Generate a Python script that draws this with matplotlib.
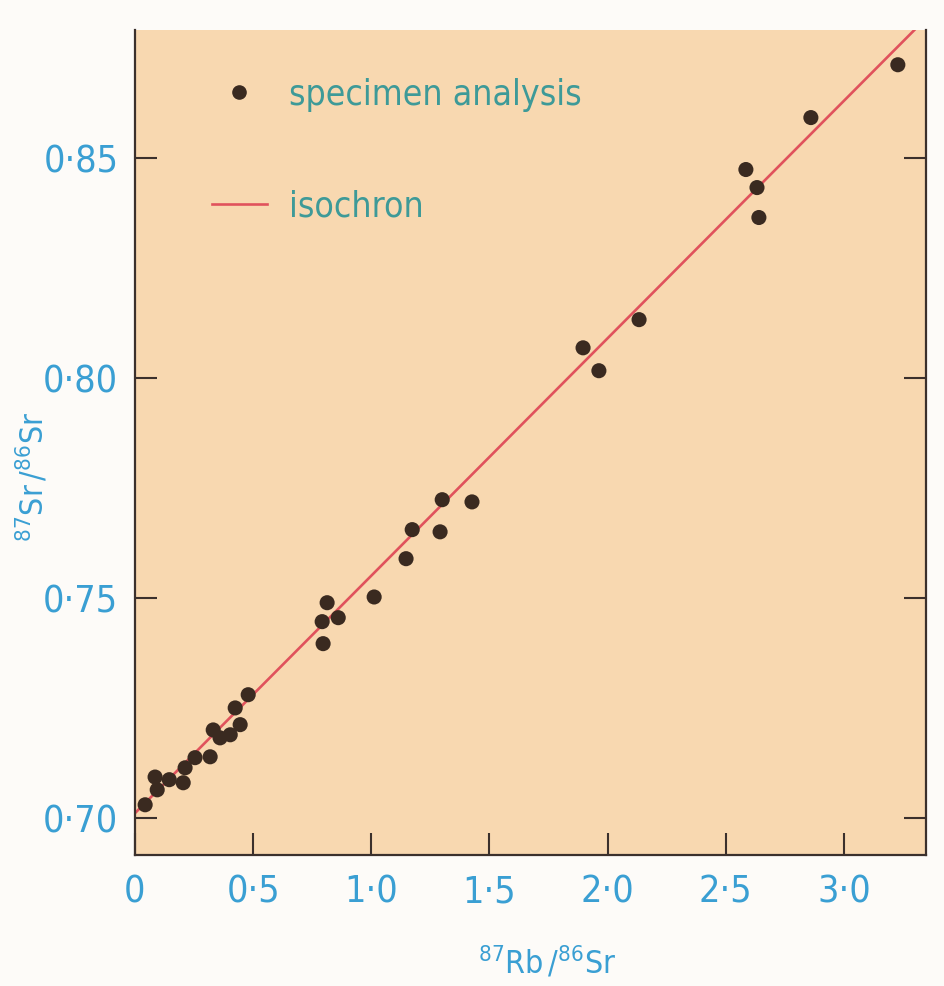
import numpy as np
import matplotlib
matplotlib.use('Agg')
import matplotlib.pyplot as plt
from matplotlib.lines import Line2D
from matplotlib import font_manager

# specimen analyses
rb_sr = [0.043, 0.085, 0.145, 0.094, 0.204, 0.212, 0.254, 0.318, 0.331, 0.360,
         0.403, 0.445, 0.424, 0.479, 0.792, 0.813, 0.860, 0.796, 1.012, 1.147,
         1.173, 1.291, 1.300, 1.426, 1.896, 1.963, 2.133, 2.585, 2.632, 2.640,
         2.860, 3.228]
sr_sr = [0.7031, 0.7094, 0.7088, 0.7065, 0.7081, 0.7115, 0.7138, 0.7140, 0.7201, 0.7183,
         0.7190, 0.7213, 0.7251, 0.7281, 0.7447, 0.7490, 0.7456, 0.7397, 0.7503, 0.7590,
         0.7656, 0.7651, 0.7724, 0.7719, 0.8069, 0.8017, 0.8133, 0.8474, 0.8433, 0.8365,
         0.8592, 0.8712]

# isochron end points
iso_x = [0.0, 3.30]
iso_y = [0.7012, 0.8792]

x_ticks = [0.0, 0.5, 1.0, 1.5, 2.0, 2.5, 3.0]
x_ticklabels = ['0', '0\u00b75', '1\u00b70', '1\u00b75', '2\u00b70', '2\u00b75', '3\u00b70']
y_ticks = [0.70, 0.75, 0.80, 0.85]
y_ticklabels = ['0\u00b770', '0\u00b775', '0\u00b780', '0\u00b785']

# look for a narrow face among the installed fonts
narrow = None
for f in font_manager.fontManager.ttflist:
    if 'Condensed' in f.fname or 'Narrow' in f.fname:
        if 'Bold' not in f.fname and 'Oblique' not in f.fname and 'Italic' not in f.fname:
            narrow = f.fname
            break

if narrow is not None:
    font_manager.fontManager.addfont(narrow)
    fam = font_manager.FontProperties(fname=narrow).get_name()
    fonts = [fam, 'DejaVu Sans']
else:
    fonts = ['DejaVu Sans']
plt.rcParams['font.family'] = fonts
plt.rcParams['font.stretch'] = 'condensed'
plt.rcParams['mathtext.fontset'] = 'custom'
plt.rcParams['mathtext.rm'] = fonts[0]
plt.rcParams['mathtext.it'] = fonts[0]

peach = '#f8d8b0'
dark = '#3b302c'
blue = '#3a9fd3'
teal = '#3e9a98'
red = '#e0525c'
dot = '#3a2a20'

fig = plt.figure(figsize=(9.44, 9.86), dpi=100, facecolor='#fdfbf8')
ax = fig.add_axes([0.1430, 0.1329, 0.9809 - 0.1430, 0.9696 - 0.1329])
ax.set_facecolor(peach)

ax.plot(iso_x, iso_y, color=red, lw=1.9, zorder=2)
ax.scatter(rb_sr, sr_sr, s=118, color=dot, edgecolors='none', zorder=3)

ax.set_xlim(0, 3.347)
ax.set_ylim(0.6917, 0.8791)

ax.xaxis.set_ticks(x_ticks)
ax.set_xticklabels(x_ticklabels)
ax.yaxis.set_ticks(y_ticks)
ax.set_yticklabels(y_ticklabels)
ax.tick_params(direction='in', length=16, width=1.5, color=dark,
               labelsize=27, labelcolor=blue, right=True, top=False)
ax.tick_params(axis='x', pad=14)
ax.tick_params(axis='y', pad=12)

for side in ['left', 'right', 'bottom']:
    ax.spines[side].set_color(dark)
    ax.spines[side].set_linewidth(1.6)
ax.spines['top'].set_visible(False)

ax.set_xlabel(r'$^{87}$Rb$\,$/$^{86}$Sr', fontsize=23, color=blue, va='center')
ax.xaxis.set_label_coords(0.521, -0.131)
ax.set_ylabel(r'$^{87}$Sr$\,$/$^{86}$Sr', fontsize=23, color=blue, va='center')
ax.yaxis.set_label_coords(-0.130, 0.458)

handles = [Line2D([], [], ls='none', marker='o', ms=9.5, color=dot),
           Line2D([], [], color=red, lw=1.9)]
leg = ax.legend(handles, ['specimen analysis', 'isochron'], loc='upper left',
                bbox_to_anchor=(0.097, 0.942), frameon=False, fontsize=25.5,
                handlelength=1.55, handletextpad=0.62, labelspacing=2.2,
                borderpad=0, borderaxespad=0)
for t in leg.get_texts():
    t.set_color(teal)

plt.savefig('out.png', dpi=100, facecolor=fig.get_facecolor())
plt.close()
